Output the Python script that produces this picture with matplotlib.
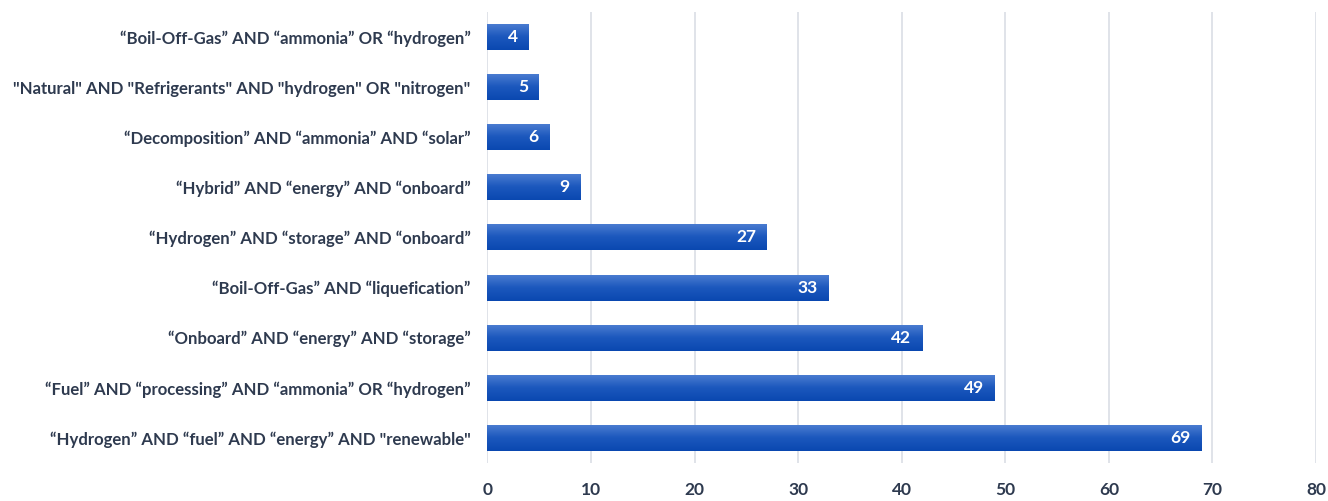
import numpy as np
import matplotlib.pyplot as plt
from matplotlib.colors import LinearSegmentedColormap

# search query strings, bottom to top
queries = [
    '\u201cHydrogen\u201d AND \u201cfuel\u201d AND \u201cenergy\u201d AND "renewable"',
    '\u201cFuel\u201d AND \u201cprocessing\u201d AND \u201cammonia\u201d OR \u201chydrogen\u201d',
    '\u201cOnboard\u201d AND \u201cenergy\u201d AND \u201cstorage\u201d',
    '\u201cBoil-Off-Gas\u201d AND \u201cliquefication\u201d',
    '\u201cHydrogen\u201d AND \u201cstorage\u201d AND \u201conboard\u201d',
    '\u201cHybrid\u201d AND \u201cenergy\u201d AND \u201conboard\u201d',
    '\u201cDecomposition\u201d AND \u201cammonia\u201d AND \u201csolar\u201d',
    '"Natural" AND "Refrigerants" AND "hydrogen" OR "nitrogen"',
    '\u201cBoil-Off-Gas\u201d AND \u201cammonia\u201d OR \u201chydrogen\u201d',
]
counts = [69, 49, 42, 33, 27, 9, 6, 5, 4]
xticks = [0, 10, 20, 30, 40, 50, 60, 70, 80]

plt.rcParams['font.family'] = ['Lato', 'DejaVu Sans']
text_color = '#2e3a4f'

fig = plt.figure(figsize=(13.28, 5.01), dpi=100)
ax = fig.add_axes([0.367, 0.076, 0.624, 0.9])

y = np.arange(len(queries))
bars = ax.barh(y, counts, height=0.52, color='#1f5cc0', zorder=2)

# vertical gradient inside each bar: lighter on top, darker below
grad = LinearSegmentedColormap.from_list('bar', ['#0a48b0', '#1c58bd', '#4d7ed2'])
g = np.linspace(0, 1, 64).reshape(-1, 1)
for b in bars:
    x0, y0 = b.get_x(), b.get_y()
    w, h = b.get_width(), b.get_height()
    im = ax.imshow(g, cmap=grad, aspect='auto', origin='lower',
                   extent=[x0, x0 + w, y0, y0 + h], zorder=3)
    im.set_clip_path(b)
    b.set_facecolor('none')

for yi, v in zip(y, counts):
    ax.annotate(str(v), (v, yi), xytext=(-8, 0), textcoords='offset points',
                ha='right', va='center', color='white', fontsize=12.5,
                fontweight='bold', zorder=4)

ax.set_xlim(0, 80)
ax.set_ylim(-0.5, len(queries) - 0.5)
ax.set_xticks(xticks)
ax.set_yticks(y)
ax.set_yticklabels(queries)
ax.grid(axis='x', color='#dde1e7', linewidth=1.3, zorder=0)
for s in ax.spines.values():
    s.set_visible(False)
ax.tick_params(axis='x', length=0, labelcolor=text_color, labelsize=12.5, pad=14)
ax.tick_params(axis='y', length=0, labelcolor=text_color, labelsize=12.1, pad=12)
for lab in ax.get_xticklabels() + ax.get_yticklabels():
    lab.set_fontweight('bold')

fig.savefig('out.png', dpi=100)
